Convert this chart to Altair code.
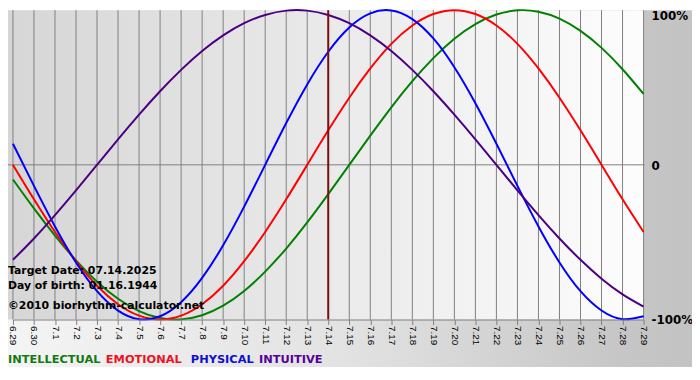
import altair as alt
import pandas as pd

# ---- data ----
days = ["6.29", "6.30", "7.1", "7.2", "7.3", "7.4", "7.5", "7.6", "7.7", "7.8", "7.9",
        "7.10", "7.11", "7.12", "7.13", "7.14", "7.15", "7.16", "7.17", "7.18", "7.19",
        "7.20", "7.21", "7.22", "7.23", "7.24", "7.25", "7.26", "7.27", "7.28", "7.29"]

intellectual = [-0.095, -0.282, -0.458, -0.618, -0.756, -0.866, -0.945, -0.990, -0.999, -0.972, -0.910,
                -0.815, -0.690, -0.541, -0.372, -0.189, 0.000, 0.189, 0.372, 0.541, 0.690,
                0.815, 0.910, 0.972, 0.999, 0.990, 0.945, 0.866, 0.756, 0.618, 0.458]
emotional = [0.000, -0.223, -0.434, -0.623, -0.782, -0.901, -0.975, -1.000, -0.975, -0.901, -0.782,
             -0.623, -0.434, -0.223, 0.000, 0.223, 0.434, 0.623, 0.782, 0.901, 0.975,
             1.000, 0.975, 0.901, 0.782, 0.623, 0.434, 0.223, 0.000, -0.223, -0.434]
physical = [0.136, -0.136, -0.398, -0.631, -0.817, -0.942, -0.998, -0.979, -0.888, -0.731, -0.520,
            -0.270, 0.000, 0.270, 0.520, 0.731, 0.888, 0.979, 0.998, 0.942, 0.817,
            0.631, 0.398, 0.136, -0.136, -0.398, -0.631, -0.817, -0.942, -0.998, -0.979]
intuitive = [-0.614, -0.476, -0.325, -0.165, 0.000, 0.165, 0.325, 0.476, 0.614, 0.736, 0.837,
             0.916, 0.969, 0.997, 0.997, 0.969, 0.916, 0.837, 0.736, 0.614, 0.476,
             0.325, 0.165, 0.000, -0.165, -0.325, -0.476, -0.614, -0.736, -0.837, -0.916]

series_names = ["INTELLECTUAL", "EMOTIONAL", "PHYSICAL", "INTUITIVE"]
target_day = "7.14"
info_lines = ["Target Date: 07.14.2025", "Day of birth: 01.16.1944", "\u00a92010 biorhythm-calculator.net"]
y_labels = ["100%", "0", "-100%"]
y_label_values = [1, 0, -1]

# ---- styles / layout ----
line_colors = {"INTELLECTUAL": "#008000", "EMOTIONAL": "#ff0000",
               "PHYSICAL": "#0000ff", "INTUITIVE": "#4b0082"}
legend_colors = {"INTELLECTUAL": "#117a11", "EMOTIONAL": "#ee1122",
                 "PHYSICAL": "#1010cc", "INTUITIVE": "#550099"}
PAD_L = 5
legend_x = {"INTELLECTUAL": 0 - PAD_L, "EMOTIONAL": 99 - PAD_L,
            "PHYSICAL": 185 - PAD_L, "INTUITIVE": 254 - PAD_L}
info_y = [264, 279, 299]

W, H = 638, 313
TOTAL_W, TOTAL_H = 692, 372
BG_BOTTOM = 361
FONT = "DejaVu Sans"

series_values = {"INTELLECTUAL": intellectual, "EMOTIONAL": emotional,
                 "PHYSICAL": physical, "INTUITIVE": intuitive}

df_days = pd.DataFrame({"day": days})
one = pd.DataFrame({"a": [0]})

x_axis = alt.Axis(grid=False, domainColor="#808080", tickColor="#808080", tickSize=5,
                  labelAngle=90, labelFont="Liberation Sans", labelFontSize=10,
                  labelColor="black", labelPadding=1, labelOverlap=False, title=None,
                  zindex=1)


def xenc():
    return alt.X("day:N", sort=days, scale=alt.Scale(type="point", padding=0), axis=x_axis)


yscale = alt.Scale(domain=[-1, 1], nice=False, zero=False)

outer_bg = alt.Chart(one).mark_rect(
    fill={"gradient": "linear", "x1": 0, "x2": 1, "y1": 0, "y2": 0,
          "stops": [{"offset": 0, "color": "#f4f4f4"},
                    {"offset": 0.5, "color": "#e2e2e2"},
                    {"offset": 0.9, "color": "#c6c6c6"},
                    {"offset": 1, "color": "#c3c3c3"}]}
).encode(x=alt.value(-PAD_L), x2=alt.value(TOTAL_W - PAD_L), y=alt.value(0), y2=alt.value(BG_BOTTOM))

plot_bg = alt.Chart(one).mark_rect(
    fill={"gradient": "linear", "x1": 0, "x2": 1, "y1": 0, "y2": 0,
          "stops": [{"offset": 0, "color": "#d6d6d6"},
                    {"offset": 1, "color": "#fdfdfd"}]}
).encode(x=alt.value(-PAD_L), x2=alt.value(W), y=alt.value(0), y2=alt.value(H))

grid = alt.Chart(df_days).mark_rule(color="#808080", strokeWidth=1).encode(
    x=xenc(), y=alt.value(0), y2=alt.value(H))

zero_line = alt.Chart(pd.DataFrame({"v": [0]})).mark_rule(color="#808080", strokeWidth=1).encode(
    y=alt.Y("v:Q", scale=yscale, axis=None), x=alt.value(-PAD_L), x2=alt.value(W + 1))

curves = []
for name in series_names:
    d = pd.DataFrame({"day": days, "value": series_values[name]})
    curves.append(
        alt.Chart(d).mark_line(color=line_colors[name], strokeWidth=2, interpolate="natural").encode(
            x=xenc(), y=alt.Y("value:Q", scale=yscale, axis=None))
    )

target = alt.Chart(pd.DataFrame({"day": [target_day]})).mark_rule(color="#7a1010", strokeWidth=2).encode(
    x=xenc(), y=alt.value(0), y2=alt.value(H))

df_ylab = pd.DataFrame({"label": y_labels, "v": y_label_values})
ylab_top = alt.Chart(df_ylab).transform_filter(alt.datum.v == 1).mark_text(
    align="left", baseline="top", dy=1, font=FONT, fontWeight="bold", fontSize=12, color="black"
).encode(x=alt.value(W + 8), y=alt.Y("v:Q", scale=yscale, axis=None), text="label:N")
ylab_rest = alt.Chart(df_ylab).transform_filter(alt.datum.v < 1).mark_text(
    align="left", baseline="middle", dy=1, font=FONT, fontWeight="bold", fontSize=12, color="black"
).encode(x=alt.value(W + 8), y=alt.Y("v:Q", scale=yscale, axis=None), text="label:N")

info_layers = []
for txt, yy in zip(info_lines, info_y):
    info_layers.append(
        alt.Chart(pd.DataFrame({"t": [txt]})).mark_text(
            align="left", baseline="middle", font=FONT, fontWeight="bold", fontSize=11, color="black"
        ).encode(x=alt.value(-PAD_L), y=alt.value(yy), text="t:N")
    )

legend_layers = []
for name in series_names:
    legend_layers.append(
        alt.Chart(pd.DataFrame({"t": [name]})).mark_text(
            align="left", baseline="middle", font=FONT, fontWeight="bold", fontSize=11.5,
            color=legend_colors[name]
        ).encode(x=alt.value(legend_x[name]), y=alt.value(354), text="t:N")
    )

chart = alt.layer(
    outer_bg, plot_bg, grid, zero_line, *curves, target, ylab_top, ylab_rest,
    *info_layers, *legend_layers
).properties(
    width=W, height=H,
    autosize=alt.AutoSizeParams(type="none"),
    padding={"left": PAD_L, "top": 0, "right": TOTAL_W - W - PAD_L, "bottom": TOTAL_H - H},
    background="white",
).configure_view(stroke=None)

chart.save("out.html", embed_options={"renderer": "svg", "actions": False})
